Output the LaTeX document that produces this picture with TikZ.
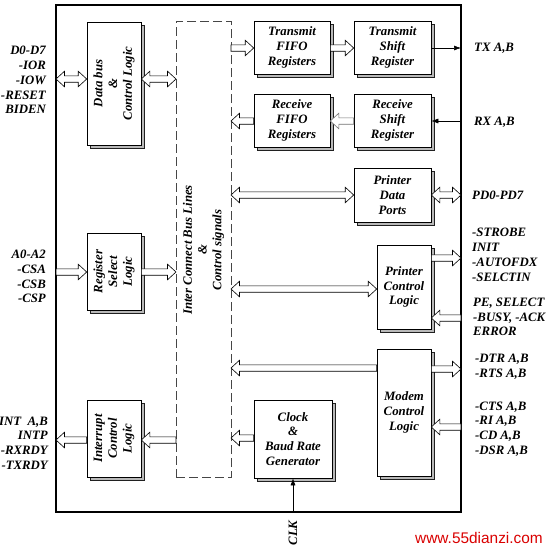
\documentclass[tikz,border=0pt]{standalone}
\usepackage{fontspec}
\setmainfont{Liberation Serif}
\newfontfamily\wmfont{Liberation Sans}
\usetikzlibrary{calc,shadows,arrows.meta}
\newcommand\harrow[3][]{%
  \coordinate (hA) at #2; \coordinate (hB) at #3;
  \coordinate (hK) at ($(hB)!8.5pt!(hA)$);
  \draw[barrow,#1] ($(hA)!3.2pt!90:(hB)$) -- ($(hK)!3.2pt!90:(hB)$) -- ($(hK)!7.8pt!90:(hB)$) -- (hB)
     -- ($(hK)!7.8pt!-90:(hB)$) -- ($(hK)!3.2pt!-90:(hB)$) -- ($(hA)!3.2pt!-90:(hB)$) -- cycle;}
\newcommand\dharrow[3][]{%
  \coordinate (hA) at #2; \coordinate (hB) at #3;
  \coordinate (hK) at ($(hB)!8.5pt!(hA)$);
  \coordinate (hJ) at ($(hA)!8.5pt!(hB)$);
  \draw[barrow,#1] (hA) -- ($(hJ)!7.8pt!90:(hB)$) -- ($(hJ)!3.2pt!90:(hB)$) -- ($(hK)!3.2pt!90:(hB)$)
     -- ($(hK)!7.8pt!90:(hB)$) -- (hB) -- ($(hK)!7.8pt!-90:(hB)$) -- ($(hK)!3.2pt!-90:(hB)$)
     -- ($(hJ)!3.2pt!-90:(hB)$) -- ($(hJ)!7.8pt!-90:(hB)$) -- cycle;}
\tikzset{
  txt/.style={font=\bfseries\itshape\fontsize{12.8}{14.8}\selectfont, inner sep=0pt},
  blk/.style={draw, fill=white, line width=0.6pt,
    drop shadow={shadow xshift=3.5pt, shadow yshift=-3.5pt, fill=gray!55, draw=gray!25!black, line width=0.4pt, opacity=1}},
  barrow/.style={draw=black, fill=white, line width=0.6pt, line join=miter},
  thin/.style={line width=0.6pt, -{Latex[length=7pt,width=5pt]}},
  lbl/.style={txt},
}
\begin{document}
\begin{tikzpicture}[x=1pt,y=-1pt]
\useasboundingbox (0,0) rectangle (549,550);
% chip outline
\node[draw, line width=1.8pt, outer sep=0pt, minimum width=405pt, minimum height=507pt] (chip) at (258.5,258.5) {};
% bus
\node[draw=gray!55!black, dash pattern=on 9pt off 4pt, line width=0.6pt, minimum width=55pt, minimum height=456pt, outer sep=0pt] (bus) at (203.5,249) {};
\node[txt, rotate=90, align=center] (bust) at (203.5,250) {Inter Connect Bus Lines\\\&\\Control signals};
% left blocks
\node[blk, minimum width=54pt, minimum height=123pt] (db) at (114,83.5) {};
\node[txt, rotate=90, align=center] (dbt) at (db) {Data bus\\\&\\Control Logic};
\node[blk, minimum width=54pt, minimum height=77pt] (rs) at (114,271.5) {};
\node[txt, rotate=90, align=center] (rst) at (rs) {Register\\Select\\Logic};
\node[blk, minimum width=54pt, minimum height=77pt] (ic) at (114,438.5) {};
\node[txt, rotate=90, align=center] (ict) at (ic) {Interrupt\\Control\\Logic};
% right blocks
\node[blk, txt, align=center, minimum width=76pt, minimum height=53pt] (tf) at (292,47.5) {Transmit\\FIFO\\Registers};
\node[blk, txt, align=center, minimum width=77pt, minimum height=53pt] (ts) at (392.5,47.5) {Transmit\\Shift\\Register};
\node[blk, txt, align=center, minimum width=76pt, minimum height=53pt] (rf) at (292,120.5) {Receive\\FIFO\\Registers};
\node[blk, txt, align=center, minimum width=77pt, minimum height=53pt] (rsh) at (392.5,120.5) {Receive\\Shift\\Register};
\node[blk, txt, align=center, minimum width=77pt, minimum height=54pt] (pdp) at (392.5,195) {Printer\\Data\\Ports};
\node[blk, txt, align=center, minimum width=54pt, minimum height=84pt] (pcl) at (404,287) {Printer\\Control\\Logic};
\node[blk, txt, align=center, minimum width=54pt, minimum height=127pt] (mcl) at (404,412.5) {Modem\\Control\\Logic};
\node[blk, txt, align=center, minimum width=78pt, minimum height=78pt] (clk) at (293,439) {Clock\\\&\\Baud Rate\\Generator};
% block arrows
\dharrow{(chip.west |- 0,79)}{(db.west |- 0,79)}
\dharrow{(db.east |- 0,79)}{(bus.west |- 0,79)}
\harrow{(chip.west |- 0,272)}{(rs.west |- 0,272)}
\harrow{(rs.east |- 0,272)}{(bus.west |- 0,272)}
\harrow{(bus.west |- 0,440)}{(ic.east |- 0,440)}
\harrow{(ic.west |- 0,440)}{(chip.west |- 0,440)}
\harrow{(bus.east |- 0,48)}{(tf.west |- 0,48)}
\harrow{(tf.east |- 0,48)}{(ts.west |- 0,48)}
\harrow[draw=black!55]{(rsh.west |- 0,121)}{(rf.east |- 0,121)}
\harrow{(rf.west |- 0,121)}{(bus.east |- 0,121)}
\dharrow{(bus.east |- 0,195)}{(pdp.west |- 0,195)}
\dharrow{(pdp.east |- 0,195)}{(chip.east |- 0,195)}
\dharrow{(bus.east |- 0,289)}{(pcl.west |- 0,289)}
\harrow{(pcl.east |- 0,258)}{(chip.east |- 0,258)}
\harrow{(chip.east |- 0,318)}{(pcl.east |- 0,318)}
\harrow{(mcl.west |- 0,368)}{(bus.east |- 0,368)}
\harrow{(mcl.east |- 0,369)}{(chip.east |- 0,369)}
\harrow{(chip.east |- 0,427)}{(mcl.east |- 0,427)}
\harrow{(clk.west |- 0,438)}{(bus.east |- 0,438)}
% thin arrows
\draw[thin] (ts.east |- 0,48) -- (chip.east |- 0,48);
\draw[thin] (chip.east |- 0,121) -- (rsh.east |- 0,121);
\draw[thin] (clk.south |- chip.south) -- (clk.south);
% labels left
\node[lbl, align=right, anchor=east] (l1) at (46,80) {D0-D7\\-IOR\\-IOW\\-RESET\\BIDEN};
\node[lbl, align=right, anchor=east] (l2) at (46,276.5) {A0-A2\\-CSA\\-CSB\\-CSP};
\node[lbl, align=right, anchor=east] (l3) at (48,443) {INT\ \ A,B\\INTP\\-RXRDY\\-TXRDY};
% labels right
\node[lbl, anchor=west] (r1) at (474,48) {TX A,B};
\node[lbl, anchor=west] (r2) at (474,122) {RX A,B};
\node[lbl, anchor=west] (r3) at (472,195) {PD0-PD7};
\node[lbl, align=left, anchor=west] (r4) at (472,255) {-STROBE\\INIT\\-AUTOFDX\\-SELCTIN};
\node[lbl, align=left, anchor=west] (r5) at (473,317) {PE, SELECT\\-BUSY, -ACK\\ERROR};
\node[lbl, align=left, anchor=west] (r6) at (475,367) {-DTR A,B\\-RTS A,B};
\node[lbl, align=left, anchor=west] (r7) at (475,429) {-CTS A,B\\-RI A,B\\-CD A,B\\-DSR A,B};
\node[lbl, rotate=90] (clkl) at (293,533) {CLK};
\node[font=\wmfont\fontsize{15.4}{16}\selectfont, text=red!85!black, inner sep=0pt] (wm) at (479,538) {www.55dianzi.com};
\end{tikzpicture}
\end{document}
